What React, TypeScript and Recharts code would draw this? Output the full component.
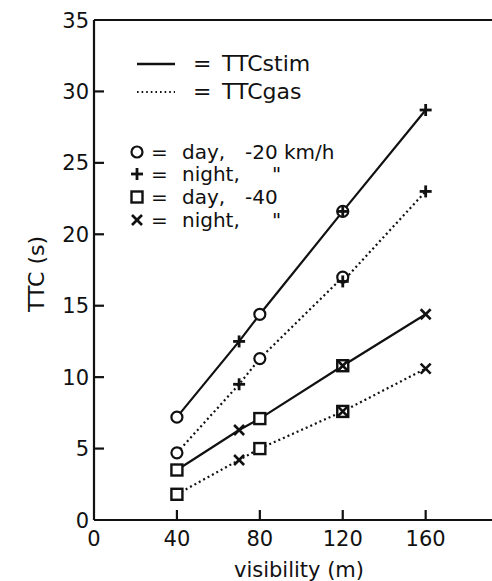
import React from 'react';
import { ComposedChart, Line, Scatter, XAxis, YAxis, Label } from 'recharts';

// ---- data ----
const xTicks = [0, 40, 80, 120, 160];
const xTopTicks = [40, 80, 120, 160];
const yTicks = [0, 5, 10, 15, 20, 25, 30, 35];

const dayVisibility = [40, 80, 120];
const nightVisibility = [70, 120, 160];

// -20 km/h
const dayStim20 = [7.2, 14.4, 21.6];
const nightStim20 = [12.5, 21.6, 28.7];
const dayGas20 = [4.7, 11.3, 17.0];
const nightGas20 = [9.5, 16.7, 23.0];

// -40 km/h
const dayStim40 = [3.5, 7.1, 10.8];
const nightStim40 = [6.3, 10.8, 14.4];
const dayGas40 = [1.8, 5.0, 7.6];
const nightGas40 = [4.2, 7.6, 10.6];

// ---- helpers ----
type Pt = { x: number; y: number };
const toPoints = (xs: number[], ys: number[]): Pt[] => xs.map((x, i) => ({ x, y: ys[i] }));
const merge = (a: Pt[], b: Pt[]): Pt[] => [...a, ...b].sort((p, q) => p.x - q.x);

const dS20 = toPoints(dayVisibility, dayStim20);
const nS20 = toPoints(nightVisibility, nightStim20);
const dG20 = toPoints(dayVisibility, dayGas20);
const nG20 = toPoints(nightVisibility, nightGas20);
const dS40 = toPoints(dayVisibility, dayStim40);
const nS40 = toPoints(nightVisibility, nightStim40);
const dG40 = toPoints(dayVisibility, dayGas40);
const nG40 = toPoints(nightVisibility, nightGas40);

const INK = '#111111';
const FONT = '"DejaVu Sans", "Liberation Sans", sans-serif';

// ---- marker shapes ----
const CircleMark = ({ cx, cy }: any) => (
  <circle cx={cx} cy={cy} r={5.5} fill="#fff" stroke={INK} strokeWidth={2.2} />
);
const PlusMark = ({ cx, cy }: any) => (
  <g stroke={INK} strokeWidth={2.8}>
    <line x1={cx - 6} x2={cx + 6} y1={cy} y2={cy} />
    <line x1={cx} x2={cx} y1={cy - 6} y2={cy + 6} />
  </g>
);
const SquareMark = ({ cx, cy }: any) => (
  <rect x={cx - 5.5} y={cy - 5.5} width={11} height={11} fill="#fff" stroke={INK} strokeWidth={2.4} />
);
const CrossMark = ({ cx, cy }: any) => (
  <g stroke={INK} strokeWidth={2.6}>
    <line x1={cx - 5} x2={cx + 5} y1={cy - 5} y2={cy + 5} />
    <line x1={cx - 5} x2={cx + 5} y1={cy + 5} y2={cy - 5} />
  </g>
);

// ---- ticks ----
const LeftTick = (p: any) => {
  const { x, y, payload } = p;
  const v = payload.value;
  const corner = v === yTicks[0] || v === yTicks[yTicks.length - 1];
  return (
    <g>
      {!corner && <line x1={x} x2={x + 10} y1={y} y2={y} stroke={INK} strokeWidth={2.2} />}
      <text x={x - 5} y={y + 7.5} textAnchor="end" fontSize={21} fontFamily={FONT} fill={INK}>
        {v}
      </text>
    </g>
  );
};
const BottomTick = (p: any) => {
  const { x, y, payload } = p;
  const v = payload.value;
  return (
    <g>
      {v !== xTicks[0] && <line x1={x} x2={x} y1={y} y2={y - 10} stroke={INK} strokeWidth={2.2} />}
      <text x={x} y={y + 26} textAnchor="middle" fontSize={21} fontFamily={FONT} fill={INK}>
        {v}
      </text>
    </g>
  );
};
const TopTick = (p: any) => {
  const { x, y } = p;
  return <line x1={x} x2={x} y1={y} y2={y + 10} stroke={INK} strokeWidth={2.2} />;
};

const YLabel = (p: any) => {
  const vb = p.viewBox;
  const cx = 44;
  const cy = vb.y + vb.height / 2 + 4;
  return (
    <text
      x={cx}
      y={cy}
      transform={`rotate(-90, ${cx}, ${cy})`}
      textAnchor="middle"
      fontSize={22}
      fontFamily={FONT}
      fill={INK}
    >
      TTC (s)
    </text>
  );
};
const XLabel = (p: any) => {
  const vb = p.viewBox;
  return (
    <text
      x={vb.x + vb.width / 2 + 6}
      y={vb.y + 57}
      textAnchor="middle"
      fontSize={21}
      fontFamily={FONT}
      fill={INK}
    >
      visibility (m)
    </text>
  );
};

const LegendBlock = () => {
  const rows = [
    { Mark: CircleMark, a: 'day,', b: '-20 km/h', y: 152 },
    { Mark: PlusMark, a: 'night,', b: '"', y: 174 },
    { Mark: SquareMark, a: 'day,', b: '-40', y: 197 },
    { Mark: CrossMark, a: 'night,', b: '"', y: 220 },
  ];
  const t = { fontFamily: FONT, fill: INK } as any;
  return (
    <g>
      <line x1={137} x2={175} y1={64} y2={64} stroke={INK} strokeWidth={2.4} />
      <line x1={137} x2={175} y1={92} y2={92} stroke={INK} strokeWidth={1.8} strokeDasharray="1.6 3" />
      <text x={193} y={71} fontSize={22} {...t}>=</text>
      <text x={222} y={71} fontSize={22} {...t}>TTCstim</text>
      <text x={193} y={99} fontSize={22} {...t}>=</text>
      <text x={222} y={99} fontSize={22} {...t}>TTCgas</text>
      {rows.map((r, i) => (
        <g key={i}>
          <r.Mark cx={137} cy={r.y} />
          <text x={151} y={r.y + 7} fontSize={20} {...t}>=</text>
          <text x={182} y={r.y + 7} fontSize={20} {...t}>{r.a}</text>
          <text x={r.b === '"' ? 272 : 245} y={r.y + 7} fontSize={20} {...t}>{r.b}</text>
        </g>
      ))}
    </g>
  );
};

export default function App() {
  const solid = { stroke: INK, strokeWidth: 2.2, dot: false, isAnimationActive: false, xAxisId: 'b', type: 'linear' as const };
  const dotted = { ...solid, strokeWidth: 2.2, strokeDasharray: '2 3' };
  return (
    <div style={{ position: 'absolute', left: 0, top: 0, background: '#fff' }}>
      <ComposedChart width={492} height={581} margin={{ top: 10, right: 0, bottom: 0, left: 0 }}>
        <XAxis
          xAxisId="b"
          type="number"
          dataKey="x"
          domain={[0, 192]}
          ticks={xTicks}
          interval={0}
          height={61}
          tickSize={0}
          tickMargin={0}
          axisLine={{ stroke: INK, strokeWidth: 2.2 }}
          tick={BottomTick}
          label={<Label content={XLabel} />}
        />
        <XAxis
          xAxisId="t"
          orientation="top"
          type="number"
          dataKey="x"
          domain={[0, 192]}
          ticks={xTopTicks}
          interval={0}
          height={10}
          tickSize={0}
          tickMargin={0}
          axisLine={{ stroke: INK, strokeWidth: 2.2 }}
          tick={TopTick}
        />
        <YAxis
          type="number"
          domain={[0, 35]}
          ticks={yTicks}
          interval={0}
          width={94}
          tickSize={0}
          tickMargin={0}
          axisLine={{ stroke: INK, strokeWidth: 2.2 }}
          tick={LeftTick}
          label={<Label content={YLabel} />}
        />
        <Line data={merge(dS20, nS20)} dataKey="y" {...solid} />
        <Line data={merge(dG20, nG20)} dataKey="y" {...dotted} />
        <Line data={merge(dS40, nS40)} dataKey="y" {...solid} />
        <Line data={merge(dG40, nG40)} dataKey="y" {...dotted} />

        <Scatter xAxisId="b" data={dS20} dataKey="y" shape={CircleMark} isAnimationActive={false} />
        <Scatter xAxisId="b" data={dG20} dataKey="y" shape={CircleMark} isAnimationActive={false} />
        <Scatter xAxisId="b" data={nS20} dataKey="y" shape={PlusMark} isAnimationActive={false} />
        <Scatter xAxisId="b" data={nG20} dataKey="y" shape={PlusMark} isAnimationActive={false} />
        <Scatter xAxisId="b" data={dS40} dataKey="y" shape={SquareMark} isAnimationActive={false} />
        <Scatter xAxisId="b" data={dG40} dataKey="y" shape={SquareMark} isAnimationActive={false} />
        <Scatter xAxisId="b" data={nS40} dataKey="y" shape={CrossMark} isAnimationActive={false} />
        <Scatter xAxisId="b" data={nG40} dataKey="y" shape={CrossMark} isAnimationActive={false} />
        <LegendBlock />
      </ComposedChart>
    </div>
  );
}
